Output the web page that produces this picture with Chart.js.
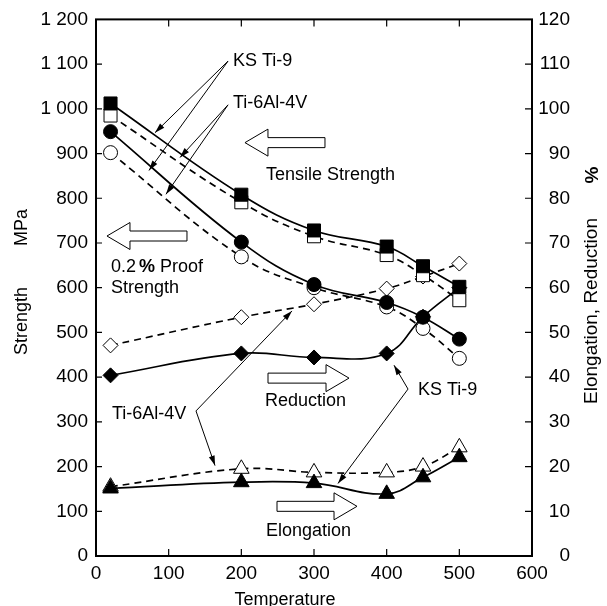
<!DOCTYPE html>
<html>
<head>
<meta charset="utf-8">
<script src="https://cdn.jsdelivr.net/npm/chart.js@4.4.1/dist/chart.umd.min.js"></script>
<style>
  html, body { margin: 0; padding: 0; background: #fff; }
</style>
</head>
<body>
<canvas id="chart" width="607" height="606"></canvas>
<script>
// temperature (deg C) of each test
const temps = [20, 200, 300, 400, 450, 500];

// strength, MPa (left axis)
const tensileKS = [1012, 808, 728, 692, 648, 602];
const tensileTi64 = [985, 791, 715, 673, 628, 572];
const proofKS = [949, 702, 607, 567, 534, 485];
const proofTi64 = [902, 669, 600, 557, 509, 442];

// elongation and reduction, % (right axis)
const reductionKS = [40.4, 45.3, 44.4, 45.3, 53.5, 60.0];
const reductionTi64 = [47.1, 53.4, 56.3, 59.8, 62.5, 65.4];
const elongationKS = [15.1, 16.5, 16.3, 13.9, 17.6, 22.1];
const elongationTi64 = [15.5, 19.5, 18.7, 18.7, 20.0, 24.3];

const FONT = '"Liberation Sans", Arial, sans-serif';

function pts(ys) {
  return temps.map(function(t, i) { return { x: t, y: ys[i] }; });
}

function series(ys, axis, shape, radius, filled, dashed) {
  return {
    data: pts(ys),
    yAxisID: axis,
    borderColor: '#000',
    borderWidth: 1.7,
    borderDash: dashed ? [7, 5] : [],
    tension: 0.4,
    fill: false,
    pointStyle: shape,
    pointRadius: radius,
    pointBorderWidth: 1,
    pointBorderColor: '#000',
    pointBackgroundColor: filled ? '#000' : '#fff',
  };
}

// annotation texts with pointer arrows (in data units of x / left axis)
const pointers = [
  { text: 'KS Ti-9', at: [188.5, 1106.7], from: [181.7, 1106.7], to: [[81.2, 946.7], [72.9, 862.2]] },
  { text: 'Ti-6Al-4V', at: [188.5, 1013.3], from: [181.7, 1008.9], to: [[115.6, 891.1], [96.3, 808.9]] },
  { text: 'Ti-6Al-4V', at: [22.0, 317.8], from: [137.6, 324.4], to: [[269.7, 548.0], [163.8, 202.2]] },
  { text: 'KS Ti-9', at: [443.1, 371.1], from: [429.4, 373.3], to: [[410.1, 426.7], [333.0, 162.2]] },
];
// hollow block arrows: tip, tail x
const blocks = [
  { tip: [205.0, 924.4], tail: 315.1, label: 'Tensile Strength', at: [233.9, 851.1] },
  { tip: [15.1, 715.6], tail: 125.2 },
  { tip: [348.2, 397.8], tail: 236.7, label: 'Reduction', at: [232.6, 346.7] },
  { tip: [359.2, 111.1], tail: 249.1, label: 'Elongation', at: [233.9, 55.6] },
];

function arrowLine(ctx, x0, y0, x1, y1) {
  ctx.beginPath();
  ctx.moveTo(x0, y0);
  ctx.lineTo(x1, y1);
  ctx.stroke();
  var ang = Math.atan2(y1 - y0, x1 - x0);
  var len = 10, hw = 3;
  ctx.beginPath();
  ctx.moveTo(x1, y1);
  ctx.lineTo(x1 - len * Math.cos(ang) + hw * Math.sin(ang), y1 - len * Math.sin(ang) - hw * Math.cos(ang));
  ctx.lineTo(x1 - len * Math.cos(ang) - hw * Math.sin(ang), y1 - len * Math.sin(ang) + hw * Math.cos(ang));
  ctx.closePath();
  ctx.fill();
}

function blockArrow(ctx, tip, tail, y) {
  var d = Math.sign(tail - tip);
  var base = tip + d * 23;
  var hh = 13.5, bh = 5;
  ctx.beginPath();
  ctx.moveTo(tip, y);
  ctx.lineTo(base, y - hh);
  ctx.lineTo(base, y - bh);
  ctx.lineTo(tail, y - bh);
  ctx.lineTo(tail, y + bh);
  ctx.lineTo(base, y + bh);
  ctx.lineTo(base, y + hh);
  ctx.closePath();
  ctx.fillStyle = '#fff';
  ctx.fill();
  ctx.stroke();
}

const deco = {
  id: 'deco',
  afterDraw: function(chart) {
    var ctx = chart.ctx, a = chart.chartArea;
    var X = chart.scales.x, Y = chart.scales.y, Y2 = chart.scales.y2;
    function px(v) { return X.getPixelForValue(v); }
    function py(v) { return Y.getPixelForValue(v); }
    ctx.save();
    ctx.strokeStyle = '#000';
    ctx.fillStyle = '#000';

    // frame
    ctx.lineWidth = 2;
    ctx.strokeRect(a.left, a.top, a.right - a.left, a.bottom - a.top);

    // inward ticks
    ctx.lineWidth = 1.2;
    ctx.beginPath();
    for (var t = 100; t < 600; t += 100) {
      ctx.moveTo(px(t), a.bottom); ctx.lineTo(px(t), a.bottom - 7);
      ctx.moveTo(px(t), a.top); ctx.lineTo(px(t), a.top + 7);
    }
    for (var s = 100; s < 1200; s += 100) {
      ctx.moveTo(a.left, py(s)); ctx.lineTo(a.left + 6, py(s));
    }
    for (var r = 10; r < 120; r += 10) {
      ctx.moveTo(a.right, Y2.getPixelForValue(r)); ctx.lineTo(a.right - 7, Y2.getPixelForValue(r));
    }
    ctx.stroke();

    // pointer labels
    ctx.lineWidth = 1;
    ctx.font = '18px ' + FONT;
    ctx.textBaseline = 'middle';
    ctx.textAlign = 'left';
    pointers.forEach(function(p) {
      ctx.fillStyle = '#000';
      ctx.fillText(p.text, px(p.at[0]), py(p.at[1]));
      p.to.forEach(function(q) {
        arrowLine(ctx, px(p.from[0]), py(p.from[1]), px(q[0]), py(q[1]));
      });
    });

    // block arrows
    blocks.forEach(function(b) {
      blockArrow(ctx, px(b.tip[0]), px(b.tail), py(b.tip[1]));
      if (b.label) {
        ctx.fillStyle = '#000';
        ctx.fillText(b.label, px(b.at[0]), py(b.at[1]));
      }
    });

    // "0.2 % Proof / Strength"
    ctx.fillStyle = '#000';
    var lx = px(20.6), ly = py(646.7);
    ctx.fillText('0.2', lx, ly);
    lx += ctx.measureText('0.2').width + 3;
    ctx.font = 'bold 18px ' + FONT;
    ctx.fillText('%', lx, ly);
    lx += ctx.measureText('%').width;
    ctx.font = '18px ' + FONT;
    ctx.fillText(' Proof', lx, ly);
    ctx.fillText('Strength', px(20.6), py(600));

    // axis titles
    ctx.textAlign = 'center';
    ctx.fillText('Temperature', 285, 600);
    ctx.save();
    ctx.translate(22, 321);
    ctx.rotate(-Math.PI / 2);
    ctx.fillText('Strength', 0, 0);
    ctx.restore();
    ctx.save();
    ctx.translate(22, 227.5);
    ctx.rotate(-Math.PI / 2);
    ctx.fillText('MPa', 0, 0);
    ctx.restore();
    ctx.save();
    ctx.translate(592, 311);
    ctx.rotate(-Math.PI / 2);
    ctx.font = '19px ' + FONT;
    ctx.fillText('Elongation, Reduction', 0, 0);
    ctx.restore();
    ctx.save();
    ctx.translate(593, 175);
    ctx.rotate(-Math.PI / 2);
    ctx.font = 'bold 19px ' + FONT;
    ctx.fillText('%', 0, 0);
    ctx.restore();

    ctx.restore();
  }
};

const tickFont = { family: FONT, size: 19 };

new Chart(document.getElementById('chart'), {
  type: 'line',
  data: {
    datasets: [
      series(tensileKS, 'y', 'rect', 9.2, true, false),
      series(proofKS, 'y', 'circle', 7, true, false),
      series(tensileTi64, 'y', 'rect', 9.2, false, true),
      series(proofTi64, 'y', 'circle', 7, false, true),
      series(elongationKS, 'y2', 'triangle', 9, true, false),
      series(elongationTi64, 'y2', 'triangle', 9, false, true),
      series(reductionTi64, 'y2', 'rectRot', 7.5, false, true),
      series(reductionKS, 'y2', 'rectRot', 7.5, true, false),
    ]
  },
  options: {
    responsive: false,
    animation: false,
    devicePixelRatio: 1,
    layout: { padding: { top: 16, left: 0, right: 37, bottom: 0 } },
    plugins: { legend: { display: false }, tooltip: { enabled: false } },
    scales: {
      x: {
        type: 'linear', min: 0, max: 600,
        grid: { display: false, drawTicks: false },
        border: { display: false },
        ticks: { stepSize: 100, font: tickFont, color: '#000', padding: 6, maxRotation: 0 },
        afterFit: function(s) { s.height = 50; }
      },
      y: {
        position: 'left', min: 0, max: 1200,
        grid: { display: false, drawTicks: false },
        border: { display: false },
        ticks: {
          stepSize: 100, font: tickFont, color: '#000', padding: 8,
          callback: function(v) { return v >= 1000 ? '1 ' + String(v).slice(1) : String(v); }
        },
        afterFit: function(s) { s.width = 96; }
      },
      y2: {
        position: 'right', min: 0, max: 120,
        grid: { display: false, drawTicks: false },
        border: { display: false },
        ticks: { stepSize: 10, font: tickFont, color: '#000', padding: 5, crossAlign: 'far' },
        afterFit: function(s) { s.width = 38; }
      }
    }
  },
  plugins: [deco]
});
</script>
</body>
</html>
